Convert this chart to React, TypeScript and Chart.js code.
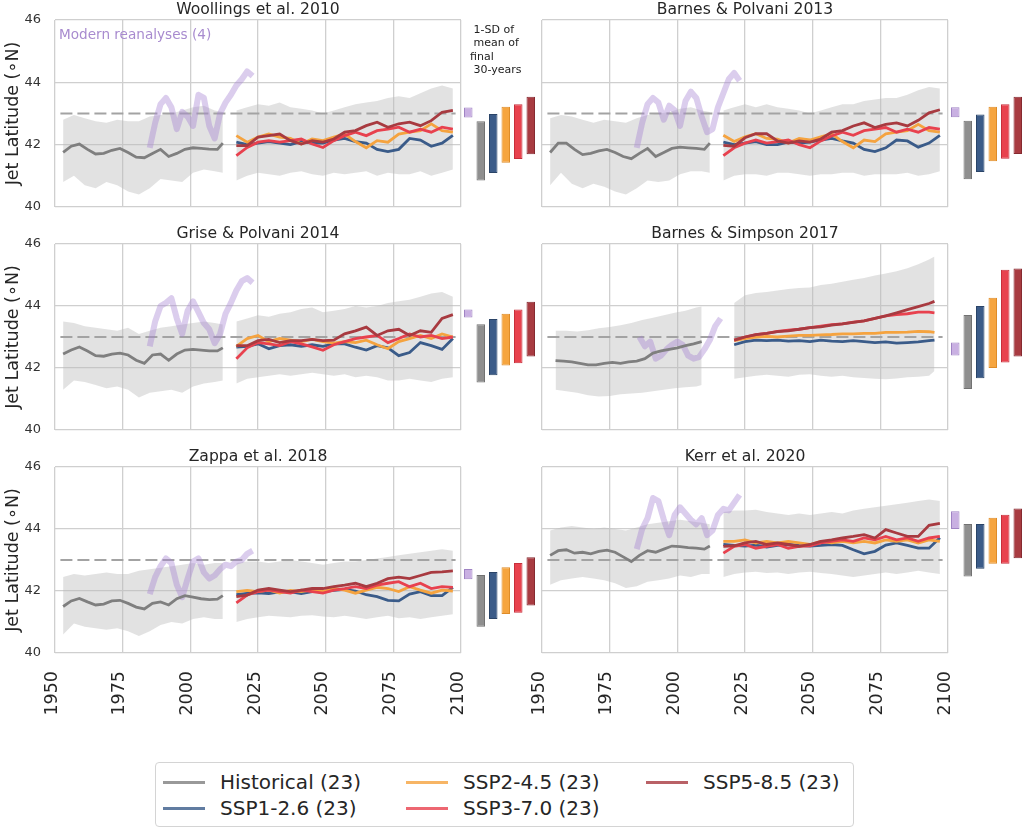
import React, { useEffect, useRef } from 'react';
import { Chart, registerables } from 'chart.js';

Chart.register(...registerables);
Chart.defaults.font.family = "'DejaVu Sans', 'Liberation Sans', sans-serif";

// ---------- shared x values (years) ----------
const histYears = [1953, 1956, 1959, 1962, 1965, 1968, 1971, 1974, 1977, 1980, 1983, 1986, 1989, 1992, 1995, 1998, 2001, 2004, 2007, 2010, 2012];
const histBandYears = [1953, 1957, 1961, 1965, 1969, 1973, 1977, 1981, 1985, 1989, 1993, 1997, 2001, 2005, 2009, 2012];
const reanYears = [1985, 1987, 1989, 1991, 1993, 1995, 1997, 1999, 2001, 2003, 2005, 2007, 2009, 2011, 2013, 2015, 2017, 2019, 2021, 2023];
const sspYears = [2017, 2021, 2025, 2029, 2033, 2037, 2041, 2045, 2049, 2053, 2057, 2061, 2065, 2069, 2073, 2077, 2081, 2085, 2089, 2093, 2097];
// Barnes & Simpson 2017 has its own time span
const bsHistYears = [1955, 1958, 1961, 1964, 1967, 1970, 1973, 1976, 1979, 1982, 1985, 1988, 1991, 1994, 1997, 2000, 2003, 2006, 2009];
const bsHistBandYears = [1955, 1959, 1963, 1967, 1971, 1975, 1979, 1983, 1987, 1991, 1995, 1999, 2003, 2007, 2009];
const bsReanYears = [1986, 1988, 1990, 1992, 1994, 1996, 1998, 2000, 2002, 2004, 2006, 2008, 2010, 2012, 2014, 2016];
const bsSspYears = [2021, 2025, 2029, 2033, 2037, 2041, 2045, 2049, 2053, 2057, 2061, 2065, 2069, 2073, 2077, 2081, 2085, 2089, 2093, 2095];

// reference (dashed) latitude
const refYears = [1952, 2098];
const refLat = [43, 43];

// x / y ticks
const xTickValues = [1950, 1975, 2000, 2025, 2050, 2075, 2100];
const yTickValues = [40, 42, 44, 46];

// side-bar categories: reanalyses, historical, SSP1-2.6, SSP2-4.5, SSP3-7.0, SSP5-8.5
const barCategories = ['Reanalyses', 'Historical', 'SSP1-2.6', 'SSP2-4.5', 'SSP3-7.0', 'SSP5-8.5'];

// ---------- Woollings et al. 2010 ----------
const wooHist = [41.75, 41.95, 42.02, 41.85, 41.7, 41.72, 41.82, 41.88, 41.75, 41.6, 41.58, 41.72, 41.85, 41.62, 41.72, 41.85, 41.9, 41.88, 41.86, 41.85, 42.05];
const wooRean = [41.9, 42.7, 43.3, 43.5, 43.2, 42.5, 43.05, 42.9, 42.6, 43.6, 43.5, 42.6, 42.2, 43.0, 43.35, 43.6, 43.9, 44.1, 44.35, 44.2];
const wooHistHi = [42.8, 42.95, 42.85, 42.75, 42.7, 42.8, 42.75, 42.75, 42.9, 42.95, 43.0, 43.1, 43.2, 43.25, 43.1, 43.05];
const wooHistLo = [40.8, 41.0, 40.7, 40.6, 40.8, 40.7, 40.5, 40.4, 40.6, 40.9, 40.85, 40.8, 41.1, 41.2, 41.15, 41.1];
const wooSspHi = [43.1, 43.2, 43.3, 43.25, 43.35, 43.2, 43.15, 43.1, 43.0, 43.1, 43.2, 43.3, 43.35, 43.4, 43.5, 43.55, 43.5, 43.65, 43.8, 43.9, 43.8];
const wooSspLo = [40.85, 41.0, 41.1, 41.05, 41.0, 41.1, 41.15, 41.05, 41.0, 41.1, 41.05, 41.1, 41.15, 41.0, 41.1, 41.05, 41.05, 41.15, 41.0, 41.1, 41.2];
const wooSsp126 = [42.08, 42.0, 42.05, 42.1, 42.05, 42.0, 42.1, 42.05, 42.05, 42.15, 42.2, 42.1, 42.05, 41.85, 41.78, 41.85, 42.2, 42.15, 41.95, 42.05, 42.3];
const wooSsp245 = [42.29, 42.08, 42.24, 42.34, 42.24, 42.2, 42.02, 42.18, 42.13, 42.24, 42.34, 42.1, 41.9, 42.13, 42.08, 42.34, 42.4, 42.45, 42.67, 42.45, 42.4];
const wooSsp370 = [41.65, 41.91, 42.08, 42.13, 42.08, 42.13, 42.18, 42.02, 41.91, 42.13, 42.29, 42.4, 42.29, 42.45, 42.5, 42.56, 42.4, 42.5, 42.4, 42.56, 42.5];
const wooSsp585 = [41.97, 41.97, 42.24, 42.29, 42.34, 42.13, 42.02, 42.13, 42.08, 42.18, 42.4, 42.45, 42.61, 42.72, 42.56, 42.67, 42.72, 42.61, 42.77, 43.04, 43.1];
const wooBarLo = [42.87, 40.85, 41.09, 41.42, 41.54, 41.69];
const wooBarHi = [43.19, 42.75, 42.98, 43.22, 43.3, 43.54];

// ---------- Barnes & Polvani 2013 ----------
const bp13Hist = [41.75, 42.05, 42.05, 41.85, 41.68, 41.72, 41.8, 41.85, 41.75, 41.62, 41.55, 41.72, 41.88, 41.62, 41.75, 41.88, 41.92, 41.9, 41.88, 41.85, 42.05];
const bp13Rean = [41.9, 42.7, 43.3, 43.5, 43.35, 42.8, 43.25, 43.1, 42.6, 43.4, 43.7, 43.5, 42.9, 42.4, 42.5, 43.2, 43.65, 44.1, 44.3, 44.05];
const bp13HistHi = [42.85, 42.95, 42.9, 42.8, 42.7, 42.8, 42.75, 42.7, 42.85, 42.95, 43.0, 43.05, 43.15, 43.2, 43.1, 43.05];
const bp13HistLo = [40.7, 41.1, 40.75, 40.6, 40.75, 40.65, 40.5, 40.4, 40.6, 40.85, 40.8, 40.85, 41.05, 41.15, 41.15, 41.1];
const bp13SspHi = [43.1, 43.2, 43.3, 43.2, 43.3, 43.2, 43.15, 43.1, 43.0, 43.1, 43.2, 43.3, 43.3, 43.4, 43.45, 43.5, 43.5, 43.6, 43.75, 43.85, 43.8];
const bp13SspLo = [40.85, 41.0, 41.05, 41.05, 41.0, 41.1, 41.1, 41.05, 41.0, 41.05, 41.05, 41.1, 41.1, 41.0, 41.05, 41.05, 41.05, 41.1, 41.0, 41.05, 41.15];
const bp13Ssp126 = [42.08, 42.0, 42.05, 42.1, 42.0, 42.0, 42.08, 42.05, 42.08, 42.15, 42.2, 42.12, 42.05, 41.85, 41.78, 41.9, 42.15, 42.12, 41.92, 42.05, 42.3];
const bp13Ssp245 = [42.3, 42.1, 42.25, 42.35, 42.2, 42.18, 42.05, 42.2, 42.15, 42.25, 42.35, 42.1, 41.9, 42.15, 42.1, 42.35, 42.4, 42.45, 42.65, 42.45, 42.4];
const bp13Ssp370 = [41.65, 41.9, 42.05, 42.15, 42.05, 42.1, 42.15, 42.0, 41.9, 42.12, 42.28, 42.4, 42.3, 42.45, 42.5, 42.55, 42.4, 42.5, 42.4, 42.55, 42.5];
const bp13Ssp585 = [41.98, 41.95, 42.22, 42.35, 42.35, 42.12, 42.05, 42.12, 42.08, 42.18, 42.4, 42.45, 42.6, 42.7, 42.55, 42.65, 42.7, 42.6, 42.78, 43.02, 43.12];
const bp13BarLo = [42.88, 40.89, 41.12, 41.47, 41.55, 41.7];
const bp13BarHi = [43.2, 42.77, 42.97, 43.22, 43.3, 43.54];

// ---------- Grise & Polvani 2014 ----------
const gpHist = [42.45, 42.58, 42.68, 42.55, 42.4, 42.38, 42.45, 42.48, 42.42, 42.25, 42.15, 42.42, 42.45, 42.25, 42.45, 42.58, 42.6, 42.58, 42.55, 42.55, 42.65];
const gpRean = [42.7, 43.5, 44.0, 44.1, 44.25, 43.6, 43.1, 43.85, 44.15, 43.8, 43.45, 43.25, 42.8, 43.1, 43.75, 44.1, 44.5, 44.8, 44.9, 44.75];
const gpHistHi = [43.5, 43.45, 43.35, 43.3, 43.25, 43.2, 43.3, 43.1, 43.2, 43.3, 43.35, 43.4, 43.45, 43.5, 43.45, 43.4];
const gpHistLo = [41.3, 41.6, 41.55, 41.45, 41.35, 41.4, 41.3, 41.05, 41.2, 41.25, 41.3, 41.2, 41.4, 41.5, 41.55, 41.6];
const gpSspHi = [43.5, 43.6, 43.7, 43.65, 43.75, 43.8, 43.9, 43.95, 43.8, 43.85, 43.9, 44.0, 43.95, 44.0, 44.1, 44.15, 44.2, 44.3, 44.4, 44.45, 44.3];
const gpSspLo = [41.5, 41.65, 41.7, 41.75, 41.8, 41.75, 41.8, 41.85, 41.8, 41.75, 41.8, 41.7, 41.75, 41.7, 41.6, 41.6, 41.65, 41.6, 41.55, 41.65, 41.7];
const gpSsp126 = [42.67, 42.7, 42.78, 42.62, 42.72, 42.75, 42.7, 42.75, 42.7, 42.78, 42.78, 42.67, 42.58, 42.72, 42.65, 42.4, 42.5, 42.82, 42.72, 42.6, 42.95];
const gpSsp245 = [42.7, 42.95, 43.05, 42.85, 42.95, 42.9, 42.85, 42.92, 42.85, 42.8, 42.85, 42.82, 42.9, 42.75, 42.62, 42.85, 42.95, 43.05, 42.95, 43.1, 43.0];
const gpSsp370 = [42.3, 42.65, 42.82, 42.78, 42.72, 42.85, 42.78, 42.68, 42.57, 42.75, 42.85, 42.95, 43.0, 43.05, 42.82, 42.95, 43.1, 43.0, 43.05, 42.95, 43.0];
const gpSsp585 = [42.72, 42.72, 42.88, 42.92, 42.82, 42.88, 42.88, 42.92, 42.88, 42.9, 43.1, 43.2, 43.32, 43.05, 43.2, 43.25, 43.05, 43.2, 43.15, 43.6, 43.72];
const gpBarLo = [43.63, 41.53, 41.77, 42.08, 42.15, 42.37];
const gpBarHi = [43.89, 43.41, 43.58, 43.75, 43.89, 44.14];

// ---------- Barnes & Simpson 2017 ----------
const bsHist = [42.24, 42.22, 42.2, 42.15, 42.1, 42.1, 42.15, 42.18, 42.15, 42.2, 42.22, 42.3, 42.48, 42.55, 42.6, 42.65, 42.72, 42.78, 42.85];
const bsRean = [43.0, 42.7, 42.85, 42.3, 42.4, 42.6, 42.75, 42.85, 42.75, 42.4, 42.3, 42.35, 42.6, 42.9, 43.35, 43.6];
const bsHistHi = [43.2, 43.2, 43.18, 43.22, 43.28, 43.32, 43.38, 43.45, 43.55, 43.62, 43.7, 43.78, 43.85, 43.95, 43.98];
const bsHistLo = [41.3, 41.25, 41.2, 41.12, 41.08, 41.1, 41.15, 41.18, 41.2, 41.25, 41.3, 41.35, 41.38, 41.4, 41.45];
const bsSspHi = [44.1, 44.35, 44.42, 44.45, 44.5, 44.55, 44.58, 44.6, 44.68, 44.72, 44.78, 44.85, 44.9, 44.98, 45.05, 45.12, 45.22, 45.35, 45.5, 45.6];
const bsSspLo = [41.65, 41.7, 41.75, 41.78, 41.75, 41.72, 41.78, 41.8, 41.75, 41.72, 41.75, 41.7, 41.68, 41.65, 41.64, 41.66, 41.7, 41.72, 41.75, 41.9];
const bsSsp126 = [42.75, 42.85, 42.9, 42.88, 42.9, 42.87, 42.88, 42.85, 42.9, 42.87, 42.85, 42.88, 42.85, 42.82, 42.84, 42.8, 42.82, 42.84, 42.88, 42.9];
const bsSsp245 = [42.88, 42.95, 43.0, 43.02, 43.0, 43.03, 43.05, 43.05, 43.07, 43.08, 43.1, 43.1, 43.12, 43.12, 43.15, 43.15, 43.16, 43.18, 43.17, 43.15];
const bsSsp370 = [42.9, 43.0, 43.08, 43.12, 43.18, 43.22, 43.25, 43.3, 43.35, 43.4, 43.42, 43.48, 43.52, 43.6, 43.68, 43.72, 43.75, 43.8, 43.8, 43.78];
const bsSsp585 = [42.9, 43.0, 43.08, 43.12, 43.17, 43.2, 43.25, 43.3, 43.33, 43.38, 43.42, 43.47, 43.52, 43.6, 43.68, 43.78, 43.88, 43.98, 44.08, 44.15];
const bsBarLo = [42.4, 41.32, 41.67, 42.0, 42.18, 42.37];
const bsBarHi = [42.82, 43.71, 44.0, 44.27, 45.17, 45.21];

// ---------- Zappa et al. 2018 ----------
const zaHist = [41.5, 41.68, 41.76, 41.65, 41.55, 41.58, 41.68, 41.7, 41.6, 41.48, 41.42, 41.6, 41.65, 41.55, 41.75, 41.85, 41.8, 41.75, 41.72, 41.74, 41.85];
const zaRean = [41.9, 42.45, 42.8, 43.05, 42.9, 42.2, 41.8, 42.4, 42.95, 43.05, 42.6, 42.4, 42.5, 42.7, 42.85, 42.8, 42.95, 43.0, 43.2, 43.3];
const zaHistHi = [42.45, 42.55, 42.5, 42.55, 42.6, 42.55, 42.55, 42.65, 42.7, 42.75, 42.8, 42.85, 42.9, 42.85, 42.9, 42.9];
const zaHistLo = [40.6, 40.95, 40.85, 40.8, 40.75, 40.8, 40.7, 40.55, 40.7, 40.9, 41.0, 40.95, 41.1, 41.15, 41.1, 41.1];
const zaSspHi = [42.9, 42.95, 42.95, 42.9, 42.95, 43.0, 42.95, 42.9, 42.85, 42.9, 42.95, 42.95, 43.0, 43.05, 43.1, 43.15, 43.2, 43.25, 43.3, 43.35, 43.3];
const zaSspLo = [41.0, 41.1, 41.15, 41.2, 41.18, 41.15, 41.2, 41.22, 41.18, 41.15, 41.2, 41.15, 41.1, 41.15, 41.2, 41.12, 41.15, 41.1, 41.15, 41.2, 41.25];
const zaSsp126 = [41.88, 41.92, 41.94, 41.92, 41.97, 41.97, 41.92, 41.98, 41.98, 42.02, 42.05, 42.0, 41.88, 41.82, 41.7, 41.68, 41.9, 41.98, 41.85, 41.85, 42.12];
const zaSsp245 = [41.98, 42.02, 41.98, 42.03, 41.93, 42.02, 41.98, 42.04, 41.98, 42.08, 42.03, 41.93, 42.03, 42.12, 42.08, 41.98, 42.14, 42.03, 41.93, 42.03, 42.0];
const zaSsp370 = [41.62, 41.87, 41.98, 42.03, 41.98, 41.93, 42.03, 41.98, 41.93, 42.03, 42.08, 42.14, 42.08, 42.19, 42.25, 42.3, 42.14, 42.25, 42.08, 42.14, 42.12];
const zaSsp585 = [41.82, 41.87, 42.03, 42.08, 42.03, 41.98, 42.03, 42.08, 42.08, 42.14, 42.19, 42.25, 42.14, 42.25, 42.4, 42.45, 42.4, 42.5, 42.6, 42.62, 42.65];
const zaBarLo = [42.38, 40.85, 41.1, 41.26, 41.3, 41.53];
const zaBarHi = [42.71, 42.52, 42.61, 42.77, 42.9, 43.09];

// ---------- Kerr et al. 2020 ----------
const keHist = [43.15, 43.3, 43.33, 43.22, 43.25, 43.2, 43.28, 43.32, 43.25, 43.1, 42.95, 43.15, 43.3, 43.25, 43.35, 43.45, 43.43, 43.4, 43.38, 43.35, 43.45];
const keRean = [43.35, 44.0, 44.35, 45.0, 44.9, 44.3, 43.8, 44.45, 44.7, 44.5, 44.3, 44.15, 44.35, 43.8, 43.95, 44.45, 44.65, 44.6, 44.85, 45.1];
const keHistHi = [43.95, 44.05, 44.1, 44.05, 44.0, 44.05, 44.0, 43.95, 44.05, 44.15, 44.2, 44.25, 44.3, 44.25, 44.2, 44.15];
const keHistLo = [42.2, 42.35, 42.4, 42.45, 42.4, 42.35, 42.25, 42.1, 42.15, 42.3, 42.35, 42.4, 42.5, 42.45, 42.55, 42.55];
const keSspHi = [44.55, 44.6, 44.6, 44.62, 44.55, 44.5, 44.45, 44.5, 44.45, 44.5, 44.55, 44.5, 44.6, 44.65, 44.7, 44.75, 44.8, 44.85, 44.9, 44.95, 44.9];
const keSspLo = [42.45, 42.55, 42.6, 42.62, 42.58, 42.6, 42.55, 42.6, 42.62, 42.58, 42.55, 42.5, 42.45, 42.5, 42.55, 42.6, 42.55, 42.6, 42.65, 42.6, 42.55];
const keSsp126 = [43.5, 43.47, 43.45, 43.48, 43.42, 43.47, 43.5, 43.47, 43.45, 43.47, 43.5, 43.47, 43.33, 43.2, 43.28, 43.48, 43.55, 43.47, 43.38, 43.38, 43.72];
const keSsp245 = [43.6, 43.6, 43.65, 43.55, 43.6, 43.55, 43.6, 43.55, 43.5, 43.6, 43.55, 43.6, 43.55, 43.6, 43.55, 43.65, 43.6, 43.65, 43.55, 43.65, 43.6];
const keSsp370 = [43.22, 43.44, 43.5, 43.38, 43.44, 43.5, 43.38, 43.44, 43.46, 43.55, 43.6, 43.65, 43.6, 43.71, 43.65, 43.76, 43.65, 43.71, 43.6, 43.71, 43.76];
const keSsp585 = [43.44, 43.46, 43.55, 43.6, 43.5, 43.55, 43.5, 43.44, 43.5, 43.6, 43.65, 43.71, 43.76, 43.82, 43.71, 43.98, 43.87, 43.76, 43.76, 44.12, 44.18];
const keBarLo = [44.0, 42.47, 42.72, 42.88, 42.88, 43.06];
const keBarHi = [44.57, 44.16, 44.16, 44.36, 44.46, 44.66];

// ---------- styles ----------
const C_HIST = '#7f7f7f';
const C_126 = '#3a5b89';
const C_245 = '#f5a33f';
const C_370 = '#e8414e';
const C_585 = '#a83a40';
const C_REAN = 'rgba(165, 130, 210, 0.4)';
const C_BAND = 'rgba(185, 185, 185, 0.42)';
const C_GRID = '#cfcfcf';
const BAR_FILL = ['#c9b0e2', '#8f8f8f', '#3b5b88', '#f6a53f', '#e8424e', '#a83b41'];
const BAR_EDGE = ['#a084c4', '#727272', '#2a4468', '#de8c28', '#c72f3b', '#862a30'];
const TEXT = '#262626';

const PLOT_LEFT = [55, 542];
const PLOT_TOP = [20, 244, 467];
const PLOT_H = [187, 186, 186];
const PLOT_W = 406;
const Y_AXIS_W = 55;
const PAD_T = 30;
const PAD_R = 40;
const PAD_B = 30;
const X_AXIS_H = 70;
const SIDE_W = 75;

type PanelSpec = {
  title: string;
  histX: number[]; hist: number[];
  histBandX: number[]; histHi: number[]; histLo: number[];
  reanX: number[]; rean: number[];
  sspX: number[]; sspHi: number[]; sspLo: number[];
  ssp126: number[]; ssp245: number[]; ssp370: number[]; ssp585: number[];
  barLo: number[]; barHi: number[];
};

const PANELS: PanelSpec[] = [
  { title: 'Woollings et al. 2010', histX: histYears, hist: wooHist, histBandX: histBandYears, histHi: wooHistHi, histLo: wooHistLo, reanX: reanYears, rean: wooRean, sspX: sspYears, sspHi: wooSspHi, sspLo: wooSspLo, ssp126: wooSsp126, ssp245: wooSsp245, ssp370: wooSsp370, ssp585: wooSsp585, barLo: wooBarLo, barHi: wooBarHi },
  { title: 'Barnes & Polvani 2013', histX: histYears, hist: bp13Hist, histBandX: histBandYears, histHi: bp13HistHi, histLo: bp13HistLo, reanX: reanYears, rean: bp13Rean, sspX: sspYears, sspHi: bp13SspHi, sspLo: bp13SspLo, ssp126: bp13Ssp126, ssp245: bp13Ssp245, ssp370: bp13Ssp370, ssp585: bp13Ssp585, barLo: bp13BarLo, barHi: bp13BarHi },
  { title: 'Grise & Polvani 2014', histX: histYears, hist: gpHist, histBandX: histBandYears, histHi: gpHistHi, histLo: gpHistLo, reanX: reanYears, rean: gpRean, sspX: sspYears, sspHi: gpSspHi, sspLo: gpSspLo, ssp126: gpSsp126, ssp245: gpSsp245, ssp370: gpSsp370, ssp585: gpSsp585, barLo: gpBarLo, barHi: gpBarHi },
  { title: 'Barnes & Simpson 2017', histX: bsHistYears, hist: bsHist, histBandX: bsHistBandYears, histHi: bsHistHi, histLo: bsHistLo, reanX: bsReanYears, rean: bsRean, sspX: bsSspYears, sspHi: bsSspHi, sspLo: bsSspLo, ssp126: bsSsp126, ssp245: bsSsp245, ssp370: bsSsp370, ssp585: bsSsp585, barLo: bsBarLo, barHi: bsBarHi },
  { title: 'Zappa et al. 2018', histX: histYears, hist: zaHist, histBandX: histBandYears, histHi: zaHistHi, histLo: zaHistLo, reanX: reanYears, rean: zaRean, sspX: sspYears, sspHi: zaSspHi, sspLo: zaSspLo, ssp126: zaSsp126, ssp245: zaSsp245, ssp370: zaSsp370, ssp585: zaSsp585, barLo: zaBarLo, barHi: zaBarHi },
  { title: 'Kerr et al. 2020', histX: histYears, hist: keHist, histBandX: histBandYears, histHi: keHistHi, histLo: keHistLo, reanX: reanYears, rean: keRean, sspX: sspYears, sspHi: keSspHi, sspLo: keSspLo, ssp126: keSsp126, ssp245: keSsp245, ssp370: keSsp370, ssp585: keSsp585, barLo: keBarLo, barHi: keBarHi },
];

const pts = (xs: number[], ys: number[]) => xs.map((x, i) => ({ x, y: ys[i] }));

function lineDs(xs: number[], ys: number[], color: string, width: number, order: number, extra: any = {}) {
  return { data: pts(xs, ys), borderColor: color, borderWidth: width, pointRadius: 0, tension: 0, fill: false, order, ...extra };
}

function Panel({ spec, row, col }: { spec: PanelSpec; row: number; col: number }) {
  const mainRef = useRef<HTMLCanvasElement>(null);
  const sideRef = useRef<HTMLCanvasElement>(null);
  const isBottom = row === 2;
  const isLeft = col === 0;
  const plotLeft = PLOT_LEFT[col];
  const plotTop = PLOT_TOP[row];
  const plotH = PLOT_H[row];
  const cw = Y_AXIS_W + PLOT_W + PAD_R;
  const ch = PAD_T + plotH + (isBottom ? X_AXIS_H : 0) + PAD_B;

  useEffect(() => {
    const gridWidth = 1.3;
    const main = new Chart(mainRef.current!, {
      type: 'line',
      data: {
        datasets: [
          { data: pts(spec.histBandX, spec.histHi), borderWidth: 0, pointRadius: 0, fill: '+1', backgroundColor: C_BAND, order: 30 },
          { data: pts(spec.histBandX, spec.histLo), borderWidth: 0, pointRadius: 0, fill: false, order: 31 },
          { data: pts(spec.sspX, spec.sspHi), borderWidth: 0, pointRadius: 0, fill: '+1', backgroundColor: C_BAND, order: 32 },
          { data: pts(spec.sspX, spec.sspLo), borderWidth: 0, pointRadius: 0, fill: false, order: 33 },
          lineDs(refYears, refLat, '#a3a3a3', 2, 20, { borderDash: [12, 5] }),
          lineDs(spec.reanX, spec.rean, C_REAN, 6, 15, { borderJoinStyle: 'round', borderCapStyle: 'butt' }),
          lineDs(spec.histX, spec.hist, C_HIST, 2.8, 8),
          lineDs(spec.sspX, spec.ssp126, C_126, 2.8, 6),
          lineDs(spec.sspX, spec.ssp245, C_245, 2.8, 5),
          lineDs(spec.sspX, spec.ssp370, C_370, 2.8, 4),
          lineDs(spec.sspX, spec.ssp585, C_585, 2.8, 3),
        ] as any,
      },
      options: {
        animation: false,
        responsive: false,
        maintainAspectRatio: false,
        events: [],
        layout: { padding: { top: PAD_T, right: PAD_R, bottom: PAD_B, left: 0 } },
        plugins: { legend: { display: false }, tooltip: { enabled: false }, title: { display: false } },
        scales: {
          x: {
            type: 'linear',
            min: xTickValues[0],
            max: xTickValues[xTickValues.length - 1],
            afterBuildTicks: (s: any) => { s.ticks = xTickValues.map((v) => ({ value: v })); },
            ticks: {
              display: isBottom,
              minRotation: 90,
              maxRotation: 90,
              autoSkip: false,
              padding: 18,
              labelOffset: -3,
              font: { size: 17.5 },
              color: TEXT,
              callback: (v: any) => String(v),
            },
            grid: { color: C_GRID, lineWidth: gridWidth, drawTicks: false },
            border: { display: false },
            afterFit: (s: any) => { s.height = isBottom ? X_AXIS_H : 0; },
          },
          y: {
            type: 'linear',
            min: yTickValues[0],
            max: yTickValues[yTickValues.length - 1],
            afterBuildTicks: (s: any) => { s.ticks = yTickValues.map((v) => ({ value: v })); },
            ticks: {
              display: isLeft,
              padding: 14,
              font: { size: 13 },
              color: '#333333',
              callback: (v: any) => String(v),
            },
            grid: { color: C_GRID, lineWidth: gridWidth, drawTicks: false },
            border: { display: false },
            title: {
              display: isLeft,
              text: 'Jet Latitude (∘N)',
              font: { size: 17.5 },
              color: TEXT,
              padding: { top: 3, bottom: 0 },
            },
            afterFit: (s: any) => { s.width = Y_AXIS_W; },
          },
        },
      } as any,
    });

    const side = new Chart(sideRef.current!, {
      type: 'bar',
      data: {
        labels: barCategories,
        datasets: [
          {
            data: spec.barLo.map((lo, i) => [lo, spec.barHi[i]]),
            backgroundColor: BAR_FILL,
            borderColor: BAR_EDGE,
            borderWidth: 1,
            borderSkipped: false,
            barPercentage: 0.68,
            categoryPercentage: 1,
          },
        ] as any,
      },
      options: {
        animation: false,
        responsive: false,
        maintainAspectRatio: false,
        events: [],
        layout: { padding: 0 },
        plugins: { legend: { display: false }, tooltip: { enabled: false } },
        scales: {
          x: { display: false },
          y: { display: false, min: yTickValues[0], max: yTickValues[yTickValues.length - 1] },
        },
      } as any,
    });

    return () => {
      main.destroy();
      side.destroy();
    };
  }, [spec, row, col]);

  return (
    <>
      <canvas
        ref={mainRef}
        width={cw}
        height={ch}
        style={{ position: 'absolute', left: plotLeft - Y_AXIS_W, top: plotTop - PAD_T, width: cw, height: ch }}
      />
      <canvas
        ref={sideRef}
        width={SIDE_W}
        height={plotH}
        style={{ position: 'absolute', left: plotLeft + PLOT_W + 1, top: plotTop, width: SIDE_W, height: plotH }}
      />
      <div
        style={{
          position: 'absolute',
          left: plotLeft,
          top: plotTop - 21,
          width: PLOT_W,
          textAlign: 'center',
          fontSize: '15.6px',
          lineHeight: '20px',
          color: TEXT,
          whiteSpace: 'nowrap',
        }}
      >
        {spec.title}
      </div>
    </>
  );
}

const LEGEND_ITEMS = [
  { label: 'Historical (23)', color: C_HIST, x: 163, y: 782 },
  { label: 'SSP1-2.6 (23)', color: C_126, x: 163, y: 808 },
  { label: 'SSP2-4.5 (23)', color: C_245, x: 406, y: 782 },
  { label: 'SSP3-7.0 (23)', color: C_370, x: 406, y: 808 },
  { label: 'SSP5-8.5 (23)', color: C_585, x: 646, y: 782 },
];

export default function App() {
  return (
    <div
      style={{
        position: 'absolute',
        left: 0,
        top: 0,
        width: 1024,
        height: 832,
        background: '#ffffff',
        fontFamily: "'DejaVu Sans', 'Liberation Sans', sans-serif",
        overflow: 'hidden',
      }}
    >
      {PANELS.map((p, i) => (
        <Panel key={i} spec={p} row={Math.floor(i / 2)} col={i % 2} />
      ))}

      <div
        style={{
          position: 'absolute',
          left: 59,
          top: 26,
          fontSize: '13.6px',
          lineHeight: '16px',
          color: '#a88bcf',
          whiteSpace: 'nowrap',
        }}
      >
        Modern reanalyses (4)
      </div>

      <div
        style={{
          position: 'absolute',
          left: 470,
          top: 22.5,
          fontSize: '11px',
          lineHeight: '13.5px',
          color: '#222222',
          whiteSpace: 'pre',
        }}
      >
        {' 1-SD of\n mean of\nfinal\n 30-years'}
      </div>

      <div
        style={{
          position: 'absolute',
          left: 155,
          top: 762,
          width: 699,
          height: 65,
          border: '1px solid #d4d4d4',
          borderRadius: 4,
          background: '#ffffff',
          boxSizing: 'border-box',
        }}
      />
      {LEGEND_ITEMS.map((it) => (
        <React.Fragment key={it.label}>
          <div
            style={{
              position: 'absolute',
              left: it.x,
              top: it.y - 1.5,
              width: 42,
              height: 3,
              background: it.color,
              opacity: 0.8,
            }}
          />
          <div
            style={{
              position: 'absolute',
              left: it.x + 57,
              top: it.y - 12,
              fontSize: '20px',
              lineHeight: '24px',
              color: TEXT,
              whiteSpace: 'nowrap',
            }}
          >
            {it.label}
          </div>
        </React.Fragment>
      ))}
    </div>
  );
}
